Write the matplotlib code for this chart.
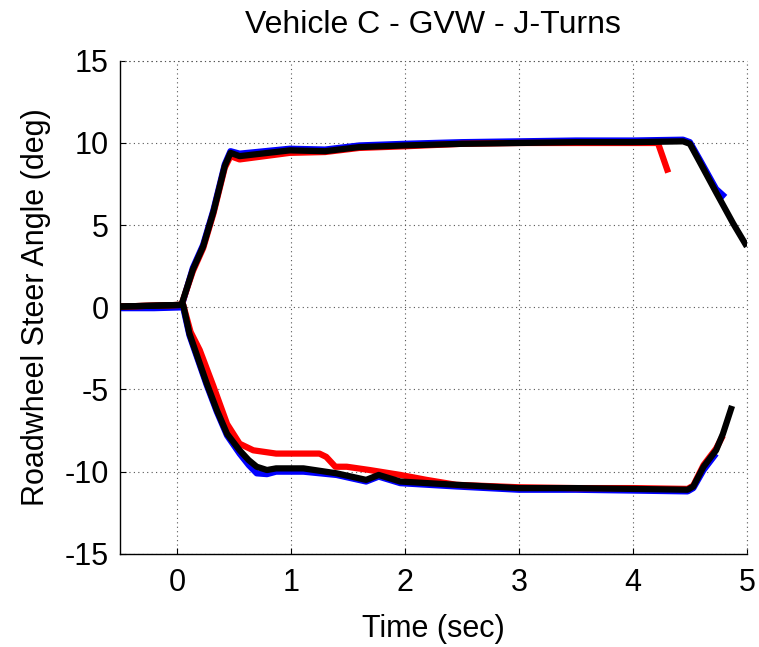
import matplotlib
matplotlib.use("Agg")
import matplotlib.pyplot as plt

plt.rcParams['font.family'] = ['Liberation Sans', 'DejaVu Sans']
plt.rcParams['axes.unicode_minus'] = False

title = "Vehicle C - GVW - J-Turns"
xlabel = "Time (sec)"
ylabel = "Roadwheel Steer Angle (deg)"
xticks = [0, 1, 2, 3, 4, 5]
yticks = [-15, -10, -5, 0, 5, 10, 15]

# Black series (two J-turn directions)
black_pos_t = [-0.5, -0.2, 0.04, 0.14, 0.23, 0.32, 0.42, 0.47, 0.55, 0.99, 1.3, 1.6, 2.0, 2.5, 3.0, 3.5, 4.0, 4.44, 4.5, 4.59, 4.73, 4.88, 5.0]
black_pos_v = [0.05, 0.1, 0.15, 2.3, 3.7, 5.8, 8.6, 9.4, 9.2, 9.55, 9.5, 9.75, 9.85, 9.95, 10.0, 10.05, 10.05, 10.1, 9.95, 8.8, 7.0, 5.1, 3.7]
black_neg_t = [-0.5, -0.2, 0.055, 0.11, 0.17, 0.26, 0.35, 0.44, 0.55, 0.63, 0.70, 0.79, 0.87, 1.11, 1.40, 1.66, 1.77, 1.96, 2.45, 3.0, 3.5, 4.0, 4.48, 4.53, 4.62, 4.73, 4.79, 4.87]
black_neg_v = [0.05, 0.1, 0.15, -1.6, -2.8, -4.6, -6.25, -7.7, -8.7, -9.3, -9.7, -9.9, -9.8, -9.8, -10.1, -10.5, -10.2, -10.6, -10.8, -11.0, -11.0, -11.05, -11.1, -10.9, -9.7, -8.7, -7.7, -6.0]

# Blue series
blue_pos_t = [-0.5, -0.2, 0.04, 0.14, 0.23, 0.32, 0.42, 0.47, 0.55, 0.99, 1.3, 1.6, 2.0, 2.5, 3.0, 3.5, 4.0, 4.44, 4.5, 4.59, 4.73, 4.81]
blue_pos_v = [0.0, 0.0, 0.05, 2.4, 3.8, 5.9, 8.7, 9.5, 9.35, 9.65, 9.6, 9.85, 9.95, 10.05, 10.1, 10.15, 10.15, 10.2, 10.05, 8.95, 7.2, 6.7]
blue_neg_t = [-0.5, -0.2, 0.055, 0.11, 0.17, 0.26, 0.35, 0.44, 0.55, 0.63, 0.70, 0.79, 0.87, 1.11, 1.40, 1.66, 1.77, 1.96, 2.45, 3.0, 3.5, 4.0, 4.48, 4.53, 4.62, 4.73]
blue_neg_v = [-0.05, -0.05, 0.0, -1.7, -2.9, -4.7, -6.35, -7.8, -8.9, -9.6, -10.1, -10.15, -10.0, -10.0, -10.2, -10.6, -10.3, -10.7, -10.9, -11.1, -11.1, -11.15, -11.2, -11.0, -9.9, -8.9]

# Red series
red_pos_t = [-0.5, -0.2, 0.04, 0.14, 0.23, 0.32, 0.42, 0.47, 0.55, 0.99, 1.3, 1.6, 2.0, 2.5, 3.0, 3.5, 4.0, 4.22, 4.31]
red_pos_v = [0.05, 0.1, 0.15, 2.2, 3.6, 5.7, 8.5, 9.2, 9.0, 9.4, 9.45, 9.7, 9.8, 9.95, 10.0, 10.0, 10.0, 10.0, 8.2]
red_neg_t = [-0.5, -0.2, 0.055, 0.12, 0.20, 0.32, 0.44, 0.55, 0.67, 0.87, 1.11, 1.25, 1.31, 1.39, 1.49, 1.69, 1.96, 2.19, 2.45, 3.0, 3.5, 4.0, 4.48, 4.53, 4.62, 4.73, 4.79]
red_neg_v = [0.05, 0.1, 0.15, -1.5, -2.6, -4.8, -7.1, -8.3, -8.7, -8.9, -8.9, -8.9, -9.1, -9.7, -9.7, -9.9, -10.2, -10.5, -10.8, -10.95, -11.0, -11.0, -11.05, -10.85, -9.6, -8.6, -7.8]

fig = plt.figure(figsize=(7.59, 6.47), dpi=100)
ax = fig.add_axes([0.158, 0.144, 0.826, 0.762])

lw = 4.5
style = dict(lw=lw, solid_capstyle='butt', solid_joinstyle='round')
ax.plot(blue_pos_t, blue_pos_v, color='#0000ff', **style)
ax.plot(blue_neg_t, blue_neg_v, color='#0000ff', **style)
ax.plot(red_pos_t, red_pos_v, color='#ff0000', **style)
ax.plot(red_neg_t, red_neg_v, color='#ff0000', **style)
ax.plot(black_pos_t, black_pos_v, color='#000000', **style)
ax.plot(black_neg_t, black_neg_v, color='#000000', **style)

ax.set_xlim(-0.5, 5)
ax.set_ylim(-15, 15)
ax.set_xticks(xticks)
ax.set_yticks(yticks)
ax.tick_params(direction='in', labelsize=22, length=4, top=False, right=False)
ax.tick_params(axis='x', pad=10)
ax.tick_params(axis='y', pad=8)
for s in ['top', 'right']:
    ax.spines[s].set_visible(False)
for s in ['left', 'bottom']:
    ax.spines[s].set_linewidth(1.0)
ax.grid(True, linestyle=(0, (1, 3)), color='#555555', linewidth=0.8)
# top and right grid edges
ax.axhline(15, linestyle=(0, (1, 3)), color='#555555', linewidth=0.8, clip_on=False)
ax.axvline(5, linestyle=(0, (1, 3)), color='#555555', linewidth=0.8, clip_on=False)

ax.set_title(title, fontsize=23, pad=20)
ax.set_xlabel(xlabel, fontsize=22, labelpad=12)
ax.set_ylabel(ylabel, fontsize=22, labelpad=10)

fig.savefig("out.png", dpi=100)
